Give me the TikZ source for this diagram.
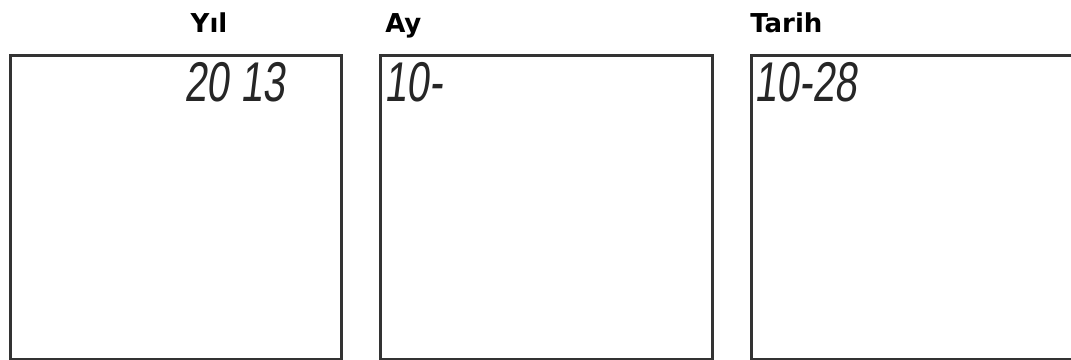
\documentclass[tikz,border=0pt]{standalone}
\usepackage{fontspec}
\setsansfont{DejaVu Sans}
\newfontfamily\lcdfont[FakeSlant=0.12,FakeStretch=0.72]{Liberation Sans}
\usetikzlibrary{positioning}

\begin{document}
\begin{tikzpicture}[x=0.75pt,y=-0.75pt,
  screen/.style={draw=black!80,line width=2.2pt,minimum height=228pt,
    inner sep=0pt,anchor=north west},
  caption/.style={font=\sffamily\bfseries\fontsize{19.5}{20}\selectfont,
    inner sep=0pt,anchor=base west},
  lcd/.style={font=\lcdfont\fontsize{42}{42}\selectfont,inner sep=0pt,
    anchor=north west,text=black!85}]
  \useasboundingbox[fill=white] (0,0) rectangle (1071,360);
  \clip (0,0) rectangle (1071,360);
  \node[screen,minimum width=248pt] (yilbox) at (9,54) {};
  \node[screen,minimum width=249pt] (aybox) at (379,54) {};
  \node[screen,minimum width=250pt] (tarihbox) at (750,54) {};
  \node[caption,anchor=base] (yil) at ([shift={(200,-21)}]yilbox.north west) {Yıl};
  \node[caption] (ay) at ([shift={(6,-21)}]aybox.north west) {Ay};
  \node[caption] (tarih) at ([shift={(0,-21)}]tarihbox.north west) {Tarih};
  \node[lcd] (yilval) at ([shift={(175,8)}]yilbox.north west) {20 13};
  \node[lcd] (ayval) at ([shift={(5,8)}]aybox.north west) {10-};
  \node[lcd] (tarihval) at ([shift={(4,8)}]tarihbox.north west) {10-28};
\end{tikzpicture}
\end{document}
